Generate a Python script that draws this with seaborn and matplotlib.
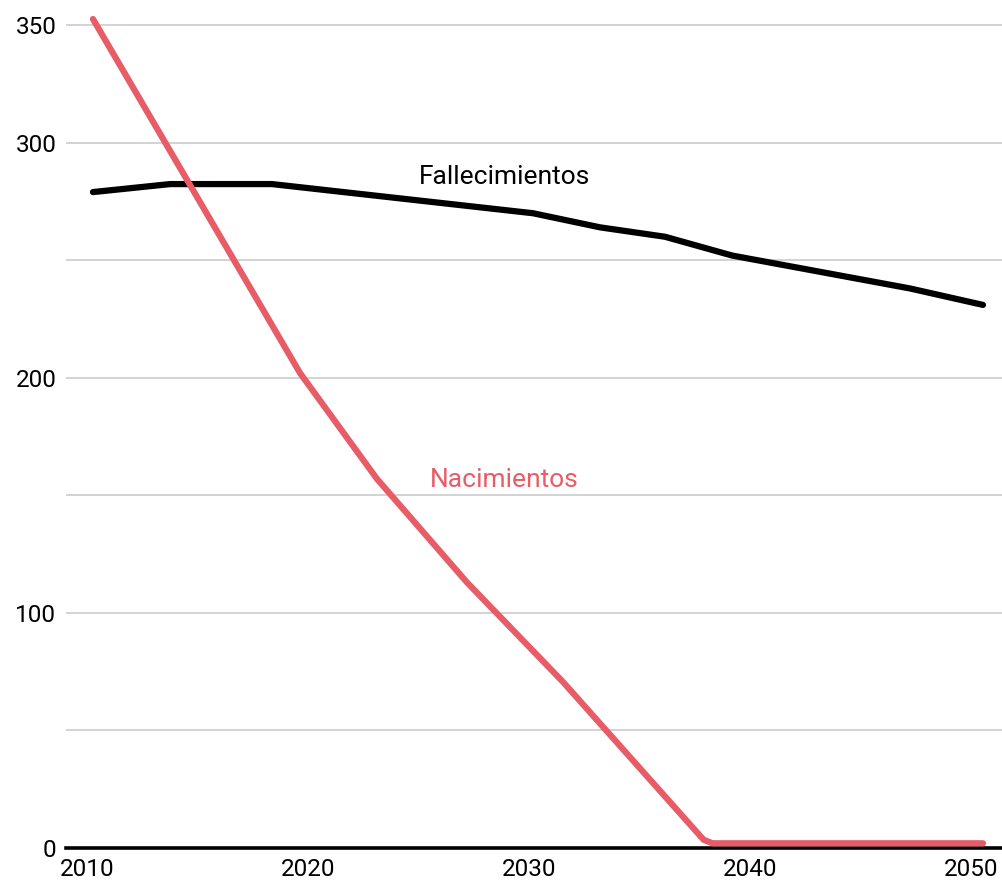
import pandas as pd
import matplotlib.pyplot as plt
import seaborn as sns

# values (x in decimal years)
years_fall = [2010.27, 2013.76, 2018.37, 2030.18, 2033.21, 2036.15, 2039.19, 2047.24, 2050.54]
fallecimientos = [279, 282.4, 282.4, 270, 264, 260, 252, 238, 231]

years_nac = [2010.27, 2019.64, 2023.12, 2027.19, 2031.54, 2037.9, 2038.3, 2050.54]
nacimientos = [352.6, 202, 157, 113, 70.6, 3.5, 2, 2]

x_ticks = [2010, 2020, 2030, 2040, 2050]
y_ticks = [0, 50, 100, 150, 200, 250, 300, 350]
y_labels = ['0', '', '100', '', '200', '', '300', '350']

red = '#e85c67'

sns.set_style('white')
plt.rcParams['font.family'] = ['Roboto', 'DejaVu Sans']

fig = plt.figure(figsize=(10.02, 8.83), dpi=100)
ax = fig.add_axes([66 / 1002, 35 / 883, 936 / 1002, 848 / 883])

df_fall = pd.DataFrame({'year': years_fall, 'value': fallecimientos})
df_nac = pd.DataFrame({'year': years_nac, 'value': nacimientos})

sns.lineplot(data=df_fall, x='year', y='value', color='black', linewidth=4.5,
             solid_capstyle='round', solid_joinstyle='round', clip_on=False, zorder=3, ax=ax)
sns.lineplot(data=df_nac, x='year', y='value', color=red, linewidth=4.5,
             solid_capstyle='round', solid_joinstyle='round', clip_on=False, zorder=4, ax=ax)

ax.set_xlim(2009.05, 2051.4)
ax.set_ylim(0, 360.7)

ax.set_yticks(y_ticks)
ax.set_yticklabels(y_labels)
ax.set_xticks(x_ticks)
ax.set_xticklabels([str(t) for t in x_ticks])
ax.tick_params(axis='both', length=0, labelsize=17.5, colors='black')
ax.tick_params(axis='y', pad=7)
ax.tick_params(axis='x', pad=7)

ax.grid(axis='y', color='#cccccc', linewidth=1.2)
ax.grid(axis='x', visible=False)
for side in ['top', 'left', 'right']:
    ax.spines[side].set_visible(False)
ax.spines['bottom'].set_color('black')
ax.spines['bottom'].set_linewidth(2.6)
ax.set_xlabel('')
ax.set_ylabel('')

ax.text(2028.9, 282.4, 'Fallecimientos', color='black', fontsize=19,
        ha='center', va='baseline')
ax.text(2028.9, 153.7, 'Nacimientos', color=red, fontsize=19,
        ha='center', va='baseline')

plt.savefig('out.png', dpi=100)
